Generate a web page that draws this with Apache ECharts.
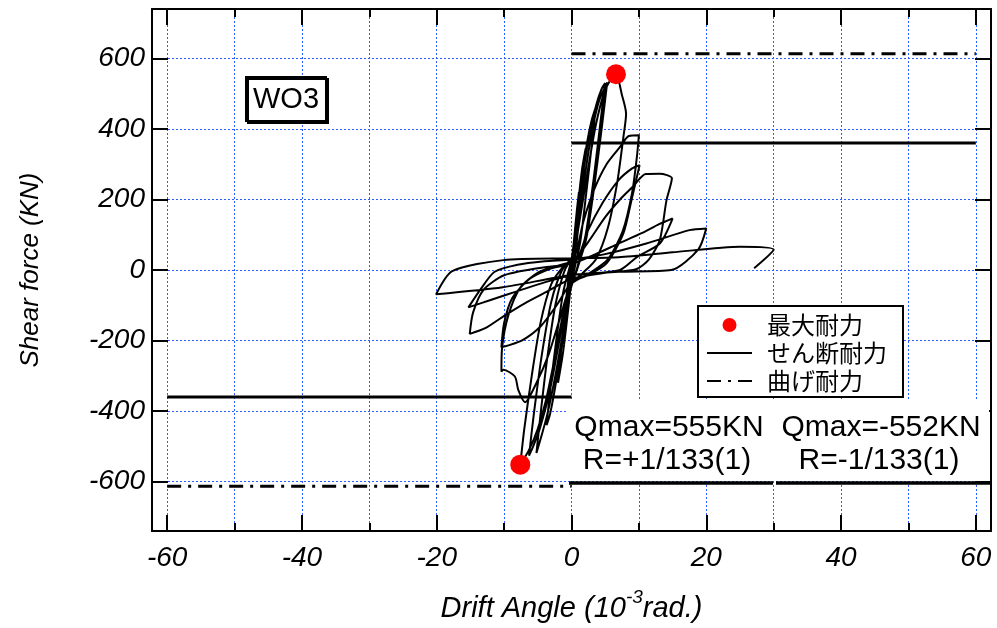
<!DOCTYPE html>
<html>
<head>
<meta charset="utf-8">
<script src="https://cdn.jsdelivr.net/npm/echarts@6/dist/echarts.min.js"></script>
<style>
  html, body { margin: 0; padding: 0; background: #fff; }
  #chart { width: 997px; height: 628px; }
</style>
</head>
<body>
<div id="chart"></div>
<script>
// 軸の目盛り
const xTickValues = [-60, -50, -40, -30, -20, -10, 0, 10, 20, 30, 40, 50, 60];
const xMajorTicks = [-60, -40, -20, 0, 20, 40, 60];
const yTickValues = [-600, -400, -200, 0, 200, 400, 600];

// 履歴ループ [drift angle (10^-3 rad), shear force (kN)]
const loopPoints = [
  [0, 0],
  [0.4, 90], [0.8, 170], [1.1, 220], [0.8, 140], [0.4, 50], [0, 0],
  [-0.4, -80], [-0.8, -160], [-1.1, -210], [-0.8, -130], [-0.4, -40], [0, 10],
  [0.5, 110], [1.1, 210], [1.6, 290], [2.1, 345], [1.7, 260], [1.1, 140], [0.5, 30], [0, -30],
  [-0.6, -130], [-1.3, -240], [-2.0, -320], [-1.6, -240], [-1.0, -120], [-0.4, -20], [0, 25],
  [0.6, 120], [1.4, 250], [2.3, 360], [3.0, 425], [3.6, 462], [3.1, 370], [2.2, 220], [1.3, 80], [0.4, 0],
  [-0.5, -80], [-1.4, -210], [-2.4, -330], [-3.2, -410], [-3.7, -440], [-3.1, -330], [-2.2, -190], [-1.2, -60], [0, 30],
  [0.7, 130], [1.6, 260], [2.7, 390], [3.7, 470], [4.5, 515], [5.0, 530], [4.3, 420], [3.3, 260], [2.1, 100], [0.9, 10],
  [-0.2, -60], [-1.2, -170], [-2.4, -300], [-3.6, -410], [-4.6, -480], [-5.2, -519], [-4.6, -410], [-3.6, -250], [-2.4, -100], [-1.0, 0], [0.2, 40],
  [1.0, 140], [2.0, 270], [3.0, 390], [4.1, 480], [5.3, 532], [4.6, 420], [3.4, 240], [2.2, 90], [0.8, 0],
  [-0.5, -70], [-1.8, -200], [-3.2, -340], [-4.7, -450], [-5.8, -505], [-6.3, -526], [-5.6, -410], [-4.4, -240], [-3.0, -90], [-1.4, 0], [0.2, 40],
  [1.2, 140], [2.4, 280], [3.6, 410], [4.8, 500], [5.8, 540], [6.6, 555], [7.5, 495], [8.1, 443], [7.7, 377], [6.8, 250], [5.4, 120], [3.6, 30], [1.6, -10], [0, -40],
  [-1.3, -130], [-2.6, -260], [-3.8, -370], [-5.0, -450], [-6.3, -510], [-7.6, -552], [-7.0, -450], [-5.9, -300], [-4.6, -150], [-3.0, -40], [-1.2, 10], [0.5, 40],
  [1.8, 140], [3.4, 230], [5.2, 300], [7.2, 349], [8.5, 380], [10.0, 382], [9.7, 320], [9.0, 220], [7.6, 110], [5.4, 30], [2.6, -10], [0, -40],
  [-1.6, -130], [-3.4, -240], [-5.2, -320], [-6.9, -375], [-7.9, -340], [-8.4, -302], [-10.1, -283], [-10.4, -288], [-10.3, -220], [-9.4, -130], [-7.6, -50], [-4.8, -5], [-1.5, 15], [0.8, 30],
  [2.4, 110], [4.6, 190], [7.0, 255], [9.0, 288], [10.1, 297], [8.9, 198], [7.7, 104], [5.2, 19], [2.4, -15], [0, -35],
  [-2.2, -100], [-4.6, -160], [-7.4, -200], [-10.4, -219], [-10.0, -150], [-8.8, -80], [-6.2, -25], [-3.0, 5], [0, 20],
  [2.5, 80], [5.0, 150], [7.2, 200], [9.1, 236], [11.0, 272], [13.1, 273], [14.9, 260], [14.1, 198], [13.1, 85], [11.5, 30], [9.6, 2], [5.0, -8], [0, -25],
  [-3.5, -60], [-7.0, -95], [-10.0, -130], [-12.8, -165], [-15.1, -181], [-14.6, -120], [-13.0, -55], [-10.0, -15], [-5.0, 5], [0, 18],
  [3.0, 40], [7.0, 75], [10.5, 105], [13.0, 130], [15.0, 146], [13.1, 75], [9.8, 38], [7.2, 0], [3.0, -10], [0, -15],
  [-4.0, -35], [-8.0, -60], [-12.0, -85], [-15.3, -106], [-13.4, -52], [-11.4, -5], [-8.0, 15], [-4.0, 25], [0, 30],
  [5.0, 45], [11.1, 75], [17.5, 113], [20.0, 118], [18.8, 58], [14.8, 0], [7.0, -5], [0, -14],
  [-10.2, -49], [-20.1, -69], [-17.7, -3], [-10.1, 28], [0, 33], [7.0, 36], [15.0, 50], [25.0, 66], [30.0, 58], [27.1, 5]
];

// 最大耐力
const peakPoints = [[6.6, 555], [-7.6, -552]];
// せん断耐力 / 曲げ耐力
const shearCapPos = [[0, 360], [60, 360]];
const shearCapNeg = [[-60, -360], [0, -360]];
const flexCapPos = [[0, 613], [60, 613]];
const flexCapNeg = [[-60, -613], [0, -613]];

const X_MIN = -62.25, X_MAX = 62.25, Y_MIN = -740, Y_MAX = 740;
const GRID = { left: 152, right: 6, top: 9, bottom: 97 };
const CHART_W = 997, CHART_H = 628;
const FONT = '"Liberation Sans", Arial, sans-serif';
const JP_FONT = '"Noto Sans CJK JP", sans-serif';
const gridLine = { color: '#2a5cff', width: 1, type: [2, 2] };
const frame = { color: '#000', width: 2 };

// 目盛り長さ（px）を軸の単位に換算して内向きの目盛り線を作る
const xPerPx = (X_MAX - X_MIN) / (CHART_W - GRID.left - GRID.right);
const yPerPx = (Y_MAX - Y_MIN) / (CHART_H - GRID.top - GRID.bottom);
const tickMarks = [];
xTickValues.forEach(function (v) {
  const dy = (xMajorTicks.indexOf(v) >= 0 ? 16 : 8) * yPerPx;
  tickMarks.push([{ coord: [v, Y_MIN] }, { coord: [v, Y_MIN + dy] }]);
  tickMarks.push([{ coord: [v, Y_MAX] }, { coord: [v, Y_MAX - dy] }]);
});
yTickValues.forEach(function (v) {
  const dx = 16 * xPerPx;
  tickMarks.push([{ coord: [X_MIN, v] }, { coord: [X_MIN + dx, v] }]);
  tickMarks.push([{ coord: [X_MAX, v] }, { coord: [X_MAX - dx, v] }]);
});

function xAxisDef(position, extra) {
  return Object.assign({
    type: 'value', position: position, min: X_MIN, max: X_MAX,
    axisLine: { show: true, onZero: false, lineStyle: frame },
    axisTick: { show: false },
    axisLabel: { show: false },
    splitLine: { show: false }
  }, extra || {});
}
function yAxisDef(position, extra) {
  return Object.assign({
    type: 'value', position: position, min: Y_MIN, max: Y_MAX,
    axisLine: { show: true, onZero: false, lineStyle: frame },
    axisTick: { show: false },
    axisLabel: { show: false },
    splitLine: { show: false }
  }, extra || {});
}

const textStyleBase = { fill: '#000', align: 'center', verticalAlign: 'middle' };

const chart = echarts.init(document.getElementById('chart'));

const option = {
  animation: false,
  backgroundColor: '#fff',
  grid: Object.assign({ outerBoundsMode: 'none' }, GRID),
  xAxis: [
    xAxisDef('bottom', {
      axisTick: { show: false, customValues: xTickValues },
      axisLabel: {
        show: true, customValues: xMajorTicks, margin: 13,
        fontSize: 28, fontStyle: 'italic', color: '#000', fontFamily: FONT
      },
      splitLine: { show: true, lineStyle: gridLine },
      name: '{a|Drift Angle (10}{s|-3}{a|rad.)}',
      nameLocation: 'middle',
      nameGap: 57,
      nameMoveOverlap: false,
      nameTextStyle: {
        rich: {
          a: { fontSize: 29, fontStyle: 'italic', color: '#000', fontFamily: FONT, lineHeight: 35, verticalAlign: 'bottom' },
          s: { fontSize: 19, fontStyle: 'italic', color: '#000', fontFamily: FONT, lineHeight: 19, verticalAlign: 'top' }
        }
      }
    }),
    xAxisDef('top')
  ],
  yAxis: [
    yAxisDef('left', {
      axisTick: { show: false, customValues: yTickValues },
      axisLabel: {
        show: true, customValues: yTickValues, margin: 7,
        fontSize: 28, fontStyle: 'italic', color: '#000', fontFamily: FONT
      },
      splitLine: { show: true, lineStyle: gridLine },
      name: 'Shear force (KN)',
      nameLocation: 'middle',
      nameGap: 108,
      nameMoveOverlap: false,
      nameTextStyle: { fontSize: 26, fontStyle: 'italic', color: '#000', fontFamily: FONT }
    }),
    yAxisDef('right')
  ],
  legend: {
    orient: 'vertical',
    left: 698,
    top: 306,
    z: 10,
    selectedMode: false,
    backgroundColor: '#fff',
    borderColor: '#000',
    borderWidth: 2,
    borderRadius: 0,
    padding: [7, 16, 4, 8],
    itemWidth: 45,
    itemHeight: 14,
    itemGap: 4,
    textStyle: { fontFamily: JP_FONT, fontSize: 24, color: '#000', lineHeight: 22, padding: [0, 0, 0, 10] },
    data: [
      { name: '最大耐力', icon: 'circle' },
      { name: 'せん断耐力', itemStyle: { color: 'rgba(0,0,0,0)', borderWidth: 0 } },
      { name: '曲げ耐力', itemStyle: { color: 'rgba(0,0,0,0)', borderWidth: 0 } }
    ]
  },
  series: [
    {
      name: 'ticks', type: 'line', data: [], symbol: 'none', silent: true, z: 8,
      markLine: {
        silent: true, symbol: 'none', animation: false,
        label: { show: false },
        emphasis: { disabled: true },
        lineStyle: { color: '#000', width: 2, type: 'solid' },
        data: tickMarks
      }
    },
    {
      name: 'loop', type: 'line', data: loopPoints,
      symbol: 'none', smooth: 0.25, z: 2,
      lineStyle: { color: '#000', width: 2 }
    },
    {
      name: 'せん断耐力', type: 'line', data: shearCapPos, symbol: 'none', z: 3,
      lineStyle: { color: '#000', width: 3 }, itemStyle: { color: '#000' }
    },
    {
      name: 'せん断耐力', type: 'line', data: shearCapNeg, symbol: 'none', z: 3,
      lineStyle: { color: '#000', width: 3 }, itemStyle: { color: '#000' }
    },
    {
      name: '曲げ耐力', type: 'line', data: flexCapPos, symbol: 'none', z: 3,
      lineStyle: { color: '#000', width: 3, type: [14, 7, 3, 7] }, itemStyle: { color: '#000' }
    },
    {
      name: '曲げ耐力', type: 'line', data: flexCapNeg, symbol: 'none', z: 3,
      lineStyle: { color: '#000', width: 3, type: [14, 7, 3, 7] }, itemStyle: { color: '#000' }
    },
    {
      name: '最大耐力', type: 'scatter', data: peakPoints,
      symbol: 'circle', symbolSize: 20, z: 5,
      itemStyle: { color: '#ff0000', opacity: 1 }
    }
  ],
  graphic: [
    // WO3 ラベル
    {
      type: 'rect', z: 6,
      shape: { x: 246, y: 77, width: 80, height: 44 },
      style: { fill: '#fff', stroke: '#000', lineWidth: 2, shadowColor: '#000', shadowOffsetX: 2, shadowOffsetY: 2, shadowBlur: 0 }
    },
    { type: 'text', z: 7, style: Object.assign({ text: 'WO3', x: 286, y: 100, font: '29px ' + FONT }, textStyleBase) },
    // Qmax 表示
    { type: 'rect', z: 6, shape: { x: 566, y: 400, width: 423, height: 81 }, style: { fill: '#fff' } },
    { type: 'text', z: 7, style: Object.assign({ text: 'Qmax=555KN', x: 669, y: 428, font: '30px ' + FONT }, textStyleBase) },
    { type: 'text', z: 7, style: Object.assign({ text: 'R=+1/133(1)', x: 667, y: 461, font: '30px ' + FONT }, textStyleBase) },
    { type: 'text', z: 7, style: Object.assign({ text: 'Qmax=-552KN', x: 881, y: 428, font: '30px ' + FONT }, textStyleBase) },
    { type: 'text', z: 7, style: Object.assign({ text: 'R=-1/133(1)', x: 879, y: 461, font: '30px ' + FONT }, textStyleBase) },
    { type: 'line', z: 7, shape: { x1: 569, y1: 483, x2: 773, y2: 483 }, style: { stroke: '#000', lineWidth: 3.5 } },
    { type: 'line', z: 7, shape: { x1: 776, y1: 483, x2: 990, y2: 483 }, style: { stroke: '#000', lineWidth: 3.5 } }
  ]
};

chart.setOption(option);
</script>
</body>
</html>
